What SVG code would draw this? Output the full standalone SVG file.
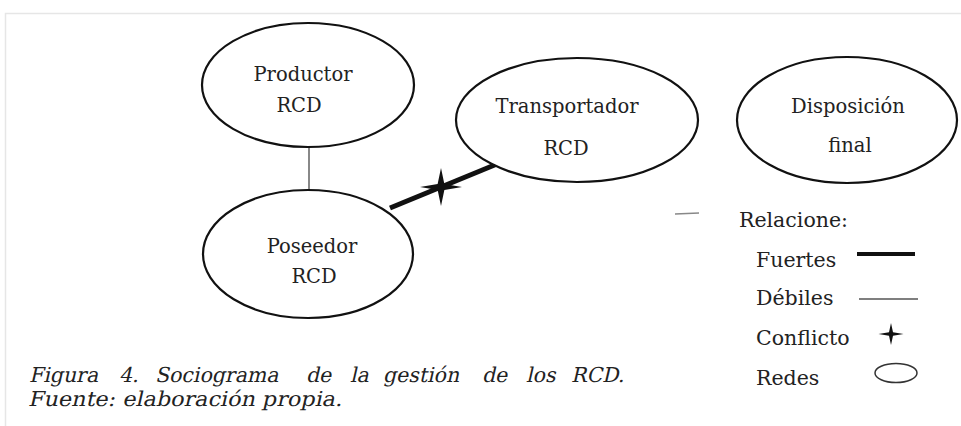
<svg xmlns="http://www.w3.org/2000/svg" width="961" height="426" viewBox="0 0 961 426">
<style>
.node ellipse{fill:#fff;stroke:#111;stroke-width:2.2}
.t{font-family:"DejaVu Serif","Liberation Serif",serif;font-size:19.5px;fill:#222;text-anchor:middle}
.lg{font-family:"DejaVu Serif","Liberation Serif",serif;font-size:20.5px;fill:#222}
.cap{font-family:"DejaVu Serif","Liberation Serif",serif;font-size:20.5px;fill:#222}
</style>
<defs>
<path id="star" d="M0,-1 L0.16,-0.16 L1,0 L0.16,0.16 L0,1 L-0.16,0.16 L-1,0 L-0.16,-0.16 Z"/>
</defs>
<rect x="0" y="0" width="961" height="426" fill="#fff"/>
<path d="M5.5,440 V13.5 H970" fill="none" stroke="#e6e6e6" stroke-width="1.5"/>
<g id="connectors">
<line x1="309" y1="147" x2="309" y2="191" stroke="#888" stroke-width="2"/>
<line x1="390" y1="208" x2="497" y2="164" stroke="#111" stroke-width="5"/>
<use href="#star" transform="translate(441,187) scale(21,19)" fill="#111"/>
<line x1="675" y1="214" x2="699" y2="213" stroke="#888" stroke-width="1.5"/>
</g>
<g id="productor" class="node">
<ellipse cx="308" cy="85" rx="106" ry="62"/>
<text class="t" x="303" y="81">Productor</text>
<text class="t" x="299" y="112">RCD</text>
</g>
<g id="transportador" class="node">
<ellipse cx="577" cy="120" rx="121" ry="62"/>
<text class="t" x="567" y="113">Transportador</text>
<text class="t" x="566" y="155">RCD</text>
</g>
<g id="disposicion" class="node">
<ellipse cx="847" cy="120" rx="110" ry="63"/>
<text class="t" x="848" y="113">Disposición</text>
<text class="t" x="850" y="152">final</text>
</g>
<g id="poseedor" class="node">
<ellipse cx="308" cy="254" rx="105" ry="64"/>
<text class="t" x="312" y="253">Poseedor</text>
<text class="t" x="314" y="283">RCD</text>
</g>
<g id="legend">
<text class="lg" x="739" y="227">Relacione:</text>
<text class="lg" x="756" y="267">Fuertes</text>
<line x1="857" y1="254" x2="915" y2="254" stroke="#111" stroke-width="4"/>
<text class="lg" x="756" y="305">Débiles</text>
<line x1="859" y1="299" x2="918" y2="299" stroke="#555" stroke-width="1.3"/>
<text class="lg" x="756" y="345">Conflicto</text>
<use href="#star" transform="translate(891,334) scale(12.5,11)" fill="#111"/>
<text class="lg" x="756" y="385">Redes</text>
<ellipse cx="896" cy="373" rx="21" ry="9.5" fill="none" stroke="#333" stroke-width="1.5"/>
</g>
<g id="caption">
<text class="cap" transform="translate(29,382) skewX(-13)" y="0"><tspan x="0">Figura</tspan><tspan x="90">4.</tspan><tspan x="126">Sociograma</tspan><tspan x="277">de</tspan><tspan x="321">la</tspan><tspan x="354">gestión</tspan><tspan x="453">de</tspan><tspan x="497">los</tspan><tspan x="542">RCD.</tspan></text>
<text class="cap" transform="translate(28,406) skewX(-13)" x="0" y="0" textLength="314" lengthAdjust="spacingAndGlyphs">Fuente: elaboración propia.</text>
</g>
</svg>
